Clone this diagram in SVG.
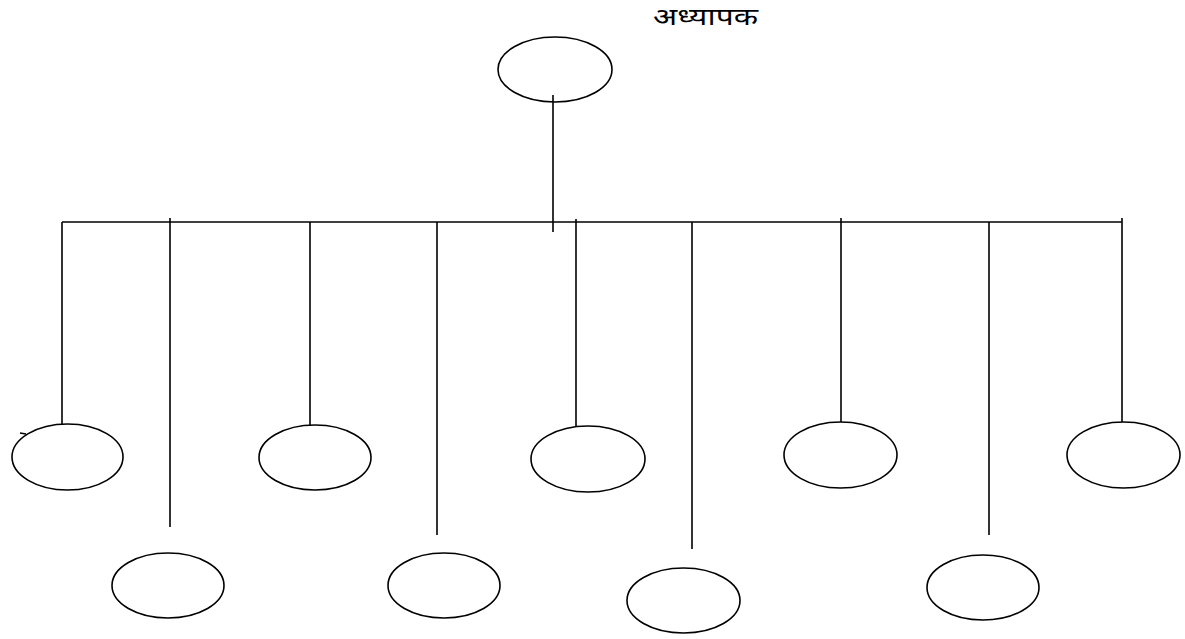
<svg xmlns="http://www.w3.org/2000/svg" width="1185" height="639" viewBox="0 0 1185 639">
  <style>
    .node { fill: none; stroke: #000; stroke-width: 1.6; }
    .wire { fill: none; stroke: #000; stroke-width: 1.6; }
    .label { font-family: "Noto Sans", "Liberation Sans", sans-serif; font-size: 24px; fill: #000; }
  </style>
  <rect width="1185" height="639" fill="#fff"/>

  <text class="label" x="653" y="25" textLength="105" lengthAdjust="spacingAndGlyphs">अध्यापक</text>

  <g id="connectors">
    <line class="wire" x1="553" y1="95" x2="553" y2="232"/>
    <line class="wire" x1="62" y1="222" x2="1122" y2="222"/>
    <line class="wire" x1="62" y1="222" x2="62" y2="424"/>
    <line class="wire" x1="170" y1="218" x2="170" y2="527"/>
    <line class="wire" x1="310" y1="222" x2="310" y2="425"/>
    <line class="wire" x1="437" y1="222" x2="437" y2="535"/>
    <line class="wire" x1="576" y1="219" x2="576" y2="426"/>
    <line class="wire" x1="692" y1="222" x2="692" y2="549"/>
    <line class="wire" x1="841" y1="218" x2="841" y2="422"/>
    <line class="wire" x1="989" y1="222" x2="989" y2="535"/>
    <line class="wire" x1="1122" y1="218" x2="1122" y2="422"/>
    <path class="wire" d="M20 433 L26 434"/>
  </g>

  <g id="root"><ellipse class="node" cx="555" cy="69.5" rx="57" ry="32.5"/></g>
  <g id="child-1"><ellipse class="node" cx="67.5" cy="457" rx="55.5" ry="33"/></g>
  <g id="child-2"><ellipse class="node" cx="168" cy="585.5" rx="56" ry="32.5"/></g>
  <g id="child-3"><ellipse class="node" cx="315" cy="457.5" rx="56" ry="32.5"/></g>
  <g id="child-4"><ellipse class="node" cx="444" cy="585.5" rx="56" ry="32.5"/></g>
  <g id="child-5"><ellipse class="node" cx="588" cy="459" rx="57" ry="33"/></g>
  <g id="child-6"><ellipse class="node" cx="683.5" cy="600.5" rx="56.5" ry="32.5"/></g>
  <g id="child-7"><ellipse class="node" cx="840.5" cy="455" rx="56.5" ry="33"/></g>
  <g id="child-8"><ellipse class="node" cx="983" cy="587.5" rx="56" ry="32.5"/></g>
  <g id="child-9"><ellipse class="node" cx="1123.5" cy="455" rx="56.5" ry="33"/></g>
</svg>
